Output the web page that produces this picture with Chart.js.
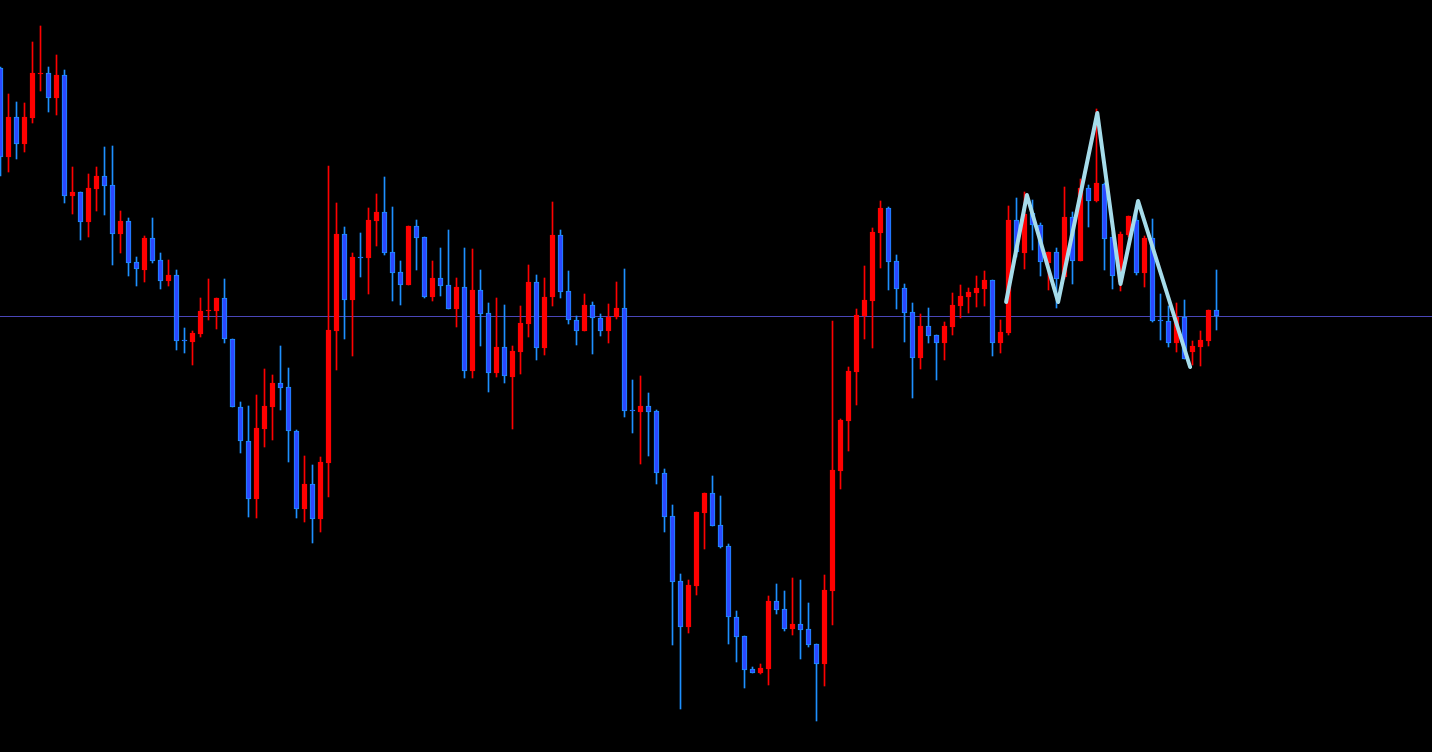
<!DOCTYPE html>
<html>
<head>
<meta charset="utf-8">
<script src="https://cdn.jsdelivr.net/npm/chart.js"></script>
<style>
  html, body { margin: 0; padding: 0; background: #000; overflow: hidden; }
  canvas { display: block; background: #000; }
</style>
</head>
<body>
<canvas id="candleChart" width="1432" height="752"></canvas>
<script>
// OHLC per candle (price points)
const opens = [684,595,635,608,634,678,679,654,677,556, 560,530,563,576,567,518,531,490,482,514,
  492,471,477,412,410,418,441,441,454,413, 345,311,253,323,345,369,365,321,243,268,
  233,289,421,518,452,495,494,531,540,500, 480,467,526,515,455,474,467,443,465,381,
  462,439,379,405,375,400,428,470,404,455, 517,461,432,421,447,434,421,435,444,342,
  340,346,341,279,236,171,125,166,239,259, 227,206,135,116,83,79,83,151,143,123,
  128,123,108,88,161,281,331,380,436,451, 519,544,491,464,440,394,426,417,409,425,
  446,455,459,463,472,409,419,532,499,539, 527,489,500,475,535,491,564,551,568,515,
  470,517,532,479,514,432,431,409,435,400, 405,411,442];
const highs = [685,658,650,649,710,726,685,697,682,585, 560,578,585,605,606,541,534,495,516,534,
  499,492,482,424,421,454,473,454,473,413, 350,346,357,383,377,406,384,322,296,287,
  295,586,549,525,499,519,544,558,575,545, 491,526,532,515,491,504,522,474,504,503,
  482,449,454,447,406,446,487,477,474,550, 522,481,436,458,450,438,448,470,483,372,
  376,359,342,283,247,178,172,240,259,276, 256,208,141,116,85,88,156,168,161,174,
  172,149,108,177,431,333,385,443,486,524, 551,545,497,468,449,438,444,417,430,459,
  467,464,476,481,472,432,546,554,560,552, 529,500,504,565,540,573,567,643,569,519,
  520,536,540,516,533,458,446,449,452,411, 421,442,482];
const lows = [576,580,593,600,629,661,640,637,549,538, 512,515,541,537,487,499,476,466,470,489,
  463,466,402,399,387,415,432,423,409,345, 299,235,234,305,312,342,290,234,230,209,
  220,255,382,413,396,475,458,506,497,451, 447,467,482,454,451,456,443,425,374,374,
  406,360,375,369,323,378,415,392,397,446, 454,428,407,421,398,416,409,433,335,319,
  288,296,268,220,107,43,119,157,203,226, 204,108,90,64,79,78,67,138,121,117,
  93,105,31,66,127,263,301,347,413,404, 484,462,443,410,354,383,409,372,392,417,
  434,439,445,446,396,399,417,495,483,502, 476,462,444,473,468,491,525,550,482,463,
  461,515,477,465,430,412,405,400,393,387, 386,406,422];
const closes = [595,635,608,635,679,679,654,677,556,560, 530,564,576,566,518,531,489,483,514,491,
  471,477,411,411,419,441,442,454,413,345, 311,253,324,346,369,364,321,243,268,233,
  290,422,518,452,495,494,532,540,499,479, 467,526,514,455,474,466,443,465,381,462,
  438,379,405,376,401,429,470,404,455,517, 460,432,421,447,434,421,435,444,341,341,
  346,340,279,235,170,125,167,240,259,226, 205,135,115,82,79,84,151,142,123,128,
  122,107,88,162,282,332,381,437,452,520, 544,490,463,439,394,426,416,409,426,447,
  456,460,464,472,409,420,532,500,538,527, 490,500,473,535,491,564,551,569,513,476,
  518,536,479,514,431,431,409,435,393,406, 412,442,436];

// drawn zigzag overlay (candle position, price)
const zigzagPos = [125.7, 128.3, 132.2, 137.1, 140.0, 142.2, 148.7];
const zigzagVal = [450, 557, 450, 639, 468, 551, 385];

// horizontal level line
const levelLine = 435.5;

const upColor = '#ff0000';
const downFill = '#2c48ff';
const downEdge = '#1e90ff';

const isUp = opens.map((o, i) => closes[i] >= o);
const bodyData = opens.map((o, i) => ({ x: i, y: [o, closes[i]] }));
const wickData = highs.map((h, i) => ({ x: i, y: [lows[i], h] }));
const zigzagData = zigzagPos.map((p, i) => ({ x: p, y: zigzagVal[i] }));

const xMin = -0.5 / 8;
const xMax = (1432 - 0.5) / 8;

const data = {
  datasets: [
    {
      type: 'line',
      data: zigzagData,
      borderColor: '#a6dcea',
      borderWidth: 4,
      pointRadius: 0,
      tension: 0,
      borderCapStyle: 'round',
      borderJoinStyle: 'round',
      order: 0
    },
    {
      type: 'bar',
      data: bodyData,
      backgroundColor: isUp.map(u => u ? upColor : downFill),
      borderColor: isUp.map(u => u ? upColor : downEdge),
      borderWidth: 1,
      borderSkipped: false,
      barThickness: 5,
      grouped: false,
      order: 1
    },
    {
      type: 'bar',
      data: wickData,
      backgroundColor: isUp.map(u => u ? upColor : downEdge),
      borderWidth: 0,
      barThickness: 1,
      grouped: false,
      order: 2
    },
    {
      type: 'line',
      data: [{ x: xMin, y: levelLine }, { x: xMax, y: levelLine }],
      borderColor: '#4a46b8',
      borderWidth: 1,
      pointRadius: 0,
      order: 3
    }
  ]
};

const options = {
  responsive: false,
  maintainAspectRatio: false,
  animation: false,
  layout: { padding: 0 },
  plugins: {
    legend: { display: false },
    tooltip: { enabled: false }
  },
  scales: {
    x: { type: 'linear', min: xMin, max: xMax, offset: false, display: false },
    y: { min: 0, max: 752, display: false }
  }
};

new Chart('candleChart', { type: 'bar', data, options });
</script>
</body>
</html>
